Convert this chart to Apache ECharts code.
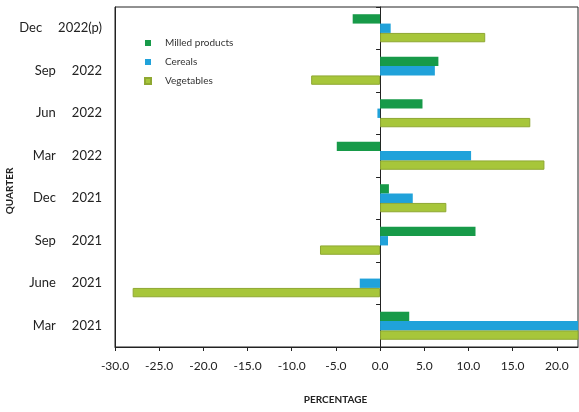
<!DOCTYPE html>
<html>
<head>
<meta charset="utf-8">
<script src="https://cdn.jsdelivr.net/npm/echarts@6/dist/echarts.min.js"></script>
<style>html,body{margin:0;padding:0;background:#fff;}#c{width:579px;height:412px;}</style>
</head>
<body>
<div id="c"></div>
<script>
var categories = ["Dec 2022(p)", "Sep 2022", "Jun 2022", "Mar 2022", "Dec 2021", "Sep 2021", "June 2021", "Mar 2021"];
var milled = [-3.1, 6.6, 4.8, -4.9, 1.0, 10.8, 0.0, 3.3];
var cereals = [1.2, 6.2, -0.3, 10.3, 3.7, 0.9, -2.3, 23.0];
var vegetables = [11.9, -7.8, 17.0, 18.6, 7.5, -6.8, -28.0, 23.5];
var xTicks = [-30, -25, -20, -15, -10, -5, 0, 5, 10, 15, 20];

var chart = echarts.init(document.getElementById('c'));
var font = 'Lato';
chart.setOption({
  animation: false,
  textStyle: { fontFamily: font },
  grid: { left: 115, right: 1, top: 7, bottom: 65, show: true, borderColor: '#222', borderWidth: 1,
    containLabel: false, outerBoundsMode: 'none' },
  legend: {
    orient: 'vertical', left: 139, top: 33, itemWidth: 6, itemHeight: 6, itemGap: 9,
    icon: 'rect',
    textStyle: { fontSize: 10, color: '#333', fontFamily: font, padding: [0, 0, 0, 9] },
    data: ['Milled products', 'Cereals', 'Vegetables']
  },
  xAxis: {
    type: 'value', min: -30, max: 22.4, interval: 5,
    name: 'PERCENTAGE', nameLocation: 'middle', nameGap: 48, nameMoveOverlap: false,
    nameTextStyle: { fontSize: 10, color: '#222', fontWeight: 'bold', padding: [0, 22, 0, 0] },
    splitLine: { show: false },
    axisLine: { show: true, onZero: false, lineStyle: { color: '#222' } },
    axisTick: { show: true, length: 4, lineStyle: { color: '#222' } },
    axisLabel: { fontSize: 12, color: '#222', margin: 13, showMaxLabel: false,
      formatter: function (v) { return xTicks.indexOf(v) >= 0 ? v.toFixed(1) : ''; } }
  },
  yAxis: [{
    type: 'category', inverse: true, data: categories,
    name: 'QUARTER', nameLocation: 'middle', nameGap: 100, nameRotate: 90, nameMoveOverlap: false,
    nameTextStyle: { fontSize: 10, color: '#222', fontWeight: 'bold', padding: [0, 0, 0, -28] },
    axisLine: { show: true, onZero: false, lineStyle: { color: '#222' } },
    axisTick: { show: false },
    axisLabel: { fontSize: 13, color: '#222', margin: 13,
      formatter: function (v) {
        var p = v.split(' ');
        return '{m|' + p[0] + '}{y|' + p[1] + '}';
      },
      rich: {
        m: { fontSize: 13, color: '#222', fontFamily: font, padding: [0, 16, 0, 0] },
        y: { fontSize: 13, color: '#222', fontFamily: font }
      }
    }
  }, {
    type: 'category', inverse: true, data: categories, position: 'left',
    axisLine: { show: true, onZero: true, lineStyle: { color: '#222' } },
    axisTick: { show: true, length: 4, lineStyle: { color: '#222' } },
    axisLabel: { show: false }
  }],
  series: [
    { name: 'Milled products', type: 'bar', data: milled, barGap: '0%', barCategoryGap: '34%',
      itemStyle: { color: '#179a49' } },
    { name: 'Cereals', type: 'bar', data: cereals, barGap: '0%', barCategoryGap: '34%',
      itemStyle: { color: '#20a2da' } },
    { name: 'Vegetables', type: 'bar', data: vegetables, barGap: '0%', barCategoryGap: '34%',
      itemStyle: { color: '#a7c63a', borderColor: '#8fa832', borderWidth: 1 } }
  ]
});
</script>
</body>
</html>
